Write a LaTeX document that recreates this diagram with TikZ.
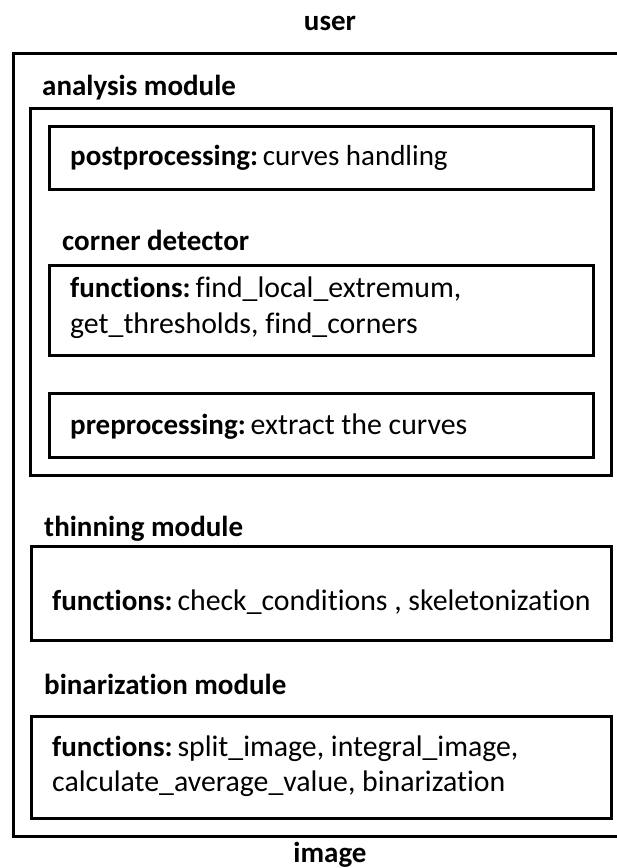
\documentclass[tikz,border=0pt]{standalone}
\usepackage{fontspec}
\setmainfont{Carlito}[Ligatures={NoCommon,NoRequired,NoContextual}]
\begin{document}
\begin{tikzpicture}[x=1pt,y=-1pt,
  frame/.style={draw=black,line width=3pt},
  lbl/.style={anchor=base west,inner sep=0pt,font=\fontsize{29.8}{36}\selectfont},
  head/.style={lbl,font=\fontsize{29}{36}\selectfont\bfseries}]
\useasboundingbox (0,0) rectangle (617,868);
\node[head,anchor=base] (user) at (330,30) {user};
\draw[frame] (13,53) rectangle (640,836);
\node[head] (analysis) at (42,95) {analysis module};
\draw[frame] (30,108) rectangle (611,475);
\draw[frame] (49,126) rectangle (593,189);
\node[lbl] (post) at (70,165) {\fontsize{29}{36}\selectfont\textbf{postprocessing:}\,curves handling};
\node[head] (corner) at (62,250) {corner detector};
\draw[frame] (49,265) rectangle (593,355);
\node[lbl] (cfun1) at (70,297) {{\fontsize{29}{36}\selectfont\textbf{functions:}}\,f{}ind\_local\_extremum,};
\node[lbl] (cfun2) at (70,333) {get\_thresholds, f{}ind\_corners};
\draw[frame] (49,393) rectangle (593,457);
\node[lbl] (pre) at (70,434) {{\fontsize{29}{36}\selectfont\textbf{preprocessing:}}\,extract the curves};
\node[head] (thin) at (44,536) {thinning module};
\draw[frame] (31,546) rectangle (611,640);
\node[lbl] (tfun) at (52,610) {{\fontsize{29}{36}\selectfont\textbf{functions:}}\,check\_conditions , skeletonization};
\node[head] (bin) at (44,694) {binarization module};
\draw[frame] (31,716) rectangle (611,818);
\node[lbl] (bfun1) at (52,756) {{\fontsize{29}{36}\selectfont\textbf{functions:}}\,split\_image, integral\_image,};
\node[lbl] (bfun2) at (52,791) {calculate\_average\_value, binarization};
\node[head,anchor=base] (image) at (330,862) {image};
\end{tikzpicture}
\end{document}
